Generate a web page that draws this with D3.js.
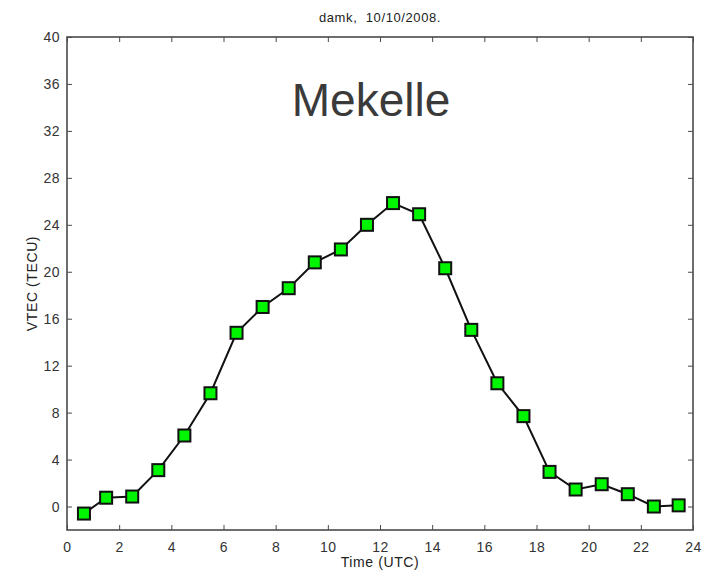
<!DOCTYPE html>
<html>
<head>
<meta charset="utf-8">
<script src="https://cdn.jsdelivr.net/npm/d3@7"></script>
<style>
  body { margin: 0; background: #fff; }
  text { font-family: "Liberation Sans", Arial, sans-serif; }
</style>
</head>
<body>
<svg width="708" height="578"></svg>
<script>
// hourly VTEC values
var hours = [0.65, 1.5, 2.5, 3.5, 4.5, 5.5, 6.5, 7.5, 8.5, 9.5, 10.5, 11.5,
             12.5, 13.5, 14.5, 15.5, 16.5, 17.5, 18.5, 19.5, 20.5, 21.5, 22.5, 23.45];
var vtec = [-0.6, 0.75, 0.85, 3.1, 6.05, 9.65, 14.8, 17.0, 18.6, 20.8, 21.9, 24.0,
            25.85, 24.9, 20.3, 15.05, 10.5, 7.7, 2.95, 1.45, 1.9, 1.05, 0.0, 0.1];
var xTicks = [0, 2, 4, 6, 8, 10, 12, 14, 16, 18, 20, 22, 24];
var yTicks = [0, 4, 8, 12, 16, 20, 24, 28, 32, 36, 40];

var svg = d3.select("svg"),
    margin = {top: 37, right: 15, bottom: 48, left: 67},
    width = +svg.attr("width") - margin.left - margin.right,
    height = +svg.attr("height") - margin.top - margin.bottom,
    g = svg.append("g").attr("transform", "translate(" + margin.left + "," + margin.top + ")");

var x = d3.scaleLinear().domain([0, 24]).range([0, width]);
var y = d3.scaleLinear().domain([-2, 40]).range([height, 0]);

var axisColor = "#4a4a4a";

function styleAxis(sel, hideText) {
  sel.select(".domain").remove();
  sel.selectAll(".tick line").attr("stroke", axisColor).attr("stroke-width", 1);
  sel.selectAll(".tick text")
    .attr("fill", "#333")
    .style("font-size", "14px")
    .style("letter-spacing", "0.5px");
  if (hideText) sel.selectAll(".tick text").remove();
}

// bottom / top ticks point inward, MATLAB style
g.append("g")
  .attr("transform", "translate(0," + height + ")")
  .call(d3.axisBottom(x).tickValues(xTicks).tickSize(-5).tickPadding(12).tickFormat(d3.format("d")))
  .call(styleAxis);
g.append("g")
  .call(d3.axisTop(x).tickValues(xTicks).tickSize(-5))
  .call(styleAxis, true);
g.append("g")
  .call(d3.axisLeft(y).tickValues(yTicks).tickSize(-5).tickPadding(7).tickFormat(d3.format("d")))
  .call(styleAxis);
g.append("g")
  .attr("transform", "translate(" + width + ",0)")
  .call(d3.axisRight(y).tickValues(yTicks).tickSize(-5))
  .call(styleAxis, true);

// box
g.append("rect")
  .attr("width", width)
  .attr("height", height)
  .attr("fill", "none")
  .attr("stroke", axisColor)
  .attr("stroke-width", 1.6);

var line = d3.line()
  .x(function(d, i) { return x(hours[i]); })
  .y(function(d) { return y(d); });

g.append("path")
  .datum(vtec)
  .attr("d", line)
  .attr("fill", "none")
  .attr("stroke", "#111")
  .attr("stroke-width", 2);

var s = 12;
g.selectAll(".mk")
  .data(vtec)
  .enter().append("rect")
  .attr("class", "mk")
  .attr("x", function(d, i) { return x(hours[i]) - s / 2; })
  .attr("y", function(d) { return y(d) - s / 2; })
  .attr("width", s)
  .attr("height", s)
  .attr("fill", "#00f500")
  .attr("stroke", "#111")
  .attr("stroke-width", 2);

// labels
svg.append("text")
  .attr("x", margin.left + width / 2)
  .attr("y", 22)
  .attr("text-anchor", "middle")
  .attr("fill", "#222")
  .style("font-size", "13px")
  .style("letter-spacing", "0.6px")
  .text("damk,  10/10/2008.")
  .attr("xml:space", "preserve");

svg.append("text")
  .attr("x", 371)
  .attr("y", 116)
  .attr("text-anchor", "middle")
  .attr("fill", "#3a3a3a")
  .style("font-size", "46px")
  .text("Mekelle");

svg.append("text")
  .attr("x", margin.left + width / 2)
  .attr("y", 567)
  .attr("text-anchor", "middle")
  .attr("fill", "#222")
  .style("font-size", "14px")
  .style("letter-spacing", "0.6px")
  .text("Time (UTC)");

svg.append("text")
  .attr("transform", "translate(37," + (margin.top + height / 2) + ") rotate(-90)")
  .attr("text-anchor", "middle")
  .attr("fill", "#222")
  .style("font-size", "14px")
  .style("letter-spacing", "0.6px")
  .text("VTEC (TECU)");
</script>
</body>
</html>
